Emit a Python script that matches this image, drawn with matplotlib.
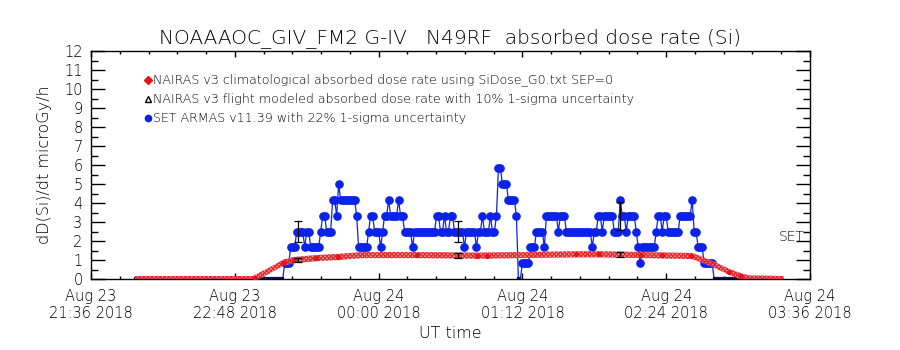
import numpy as np
import matplotlib
matplotlib.use("Agg")
import matplotlib.pyplot as plt
from matplotlib.ticker import MultipleLocator

plt.rcParams["hatch.linewidth"] = 1.0

# time axis in minutes after 2018-08-23 21:36 UT
tick_min = [0, 72, 144, 216, 288, 360]
tick_labels = ["Aug 23\n21:36 2018", "Aug 23\n22:48 2018", "Aug 24\n00:00 2018",
               "Aug 24\n01:12 2018", "Aug 24\n02:24 2018", "Aug 24\n03:36 2018"]

# NAIRAS v3 climatological dose rate (microGy/h)
clim_t = [22, 81, 88.5, 96, 101.5, 113, 123.5, 136, 163, 194, 243, 255, 276, 301,
          305, 310, 315, 320, 326, 330, 347]
clim_v = [0.0, 0.0, 0.4, 0.84, 1.0, 1.1, 1.16, 1.26, 1.26, 1.23, 1.3, 1.3, 1.26,
          1.21, 1.05, 0.85, 0.6, 0.35, 0.12, 0.03, 0.0]
clim_dot_t = [82, 96, 101.5, 112.5, 123.5, 163, 193.5, 198.5, 243, 254.5, 275.5,
              286, 300.5, 319.5, 325.5]
clim_dot_v = [0.05, 0.84, 1.0, 1.1, 1.16, 1.26, 1.23, 1.22, 1.3, 1.3, 1.26, 1.24,
              1.2, 0.38, 0.14]

# NAIRAS flight modeled values at the error bar times (10% 1-sigma)
model_t = [103.5, 184, 265]
model_v = [1.0, 1.24, 1.27]

# SET ARMAS: quantised levels, run starts (minute) and level index
set_step = 0.832
set_run_t = [22, 97, 100, 103, 107, 108, 110, 115, 116, 118, 121, 123, 124, 125,
             133, 134, 139, 140, 142, 145, 146, 147, 149, 150, 154, 155, 157, 161,
             162, 173, 175, 177, 178, 180, 182, 187, 188, 193, 194, 196, 197, 200,
             201, 203, 204, 206, 209, 213, 214, 216, 220, 223, 227, 228, 234, 235,
             238, 251, 252, 254, 256, 257, 262, 265, 266, 268, 269, 273, 274, 275,
             276, 283, 284, 286, 287, 289, 295, 301, 302, 304, 307, 312]
set_run_k = [0, 1, 2, 3, 2, 3, 2, 3, 4, 3, 5, 4, 6, 5,
             4, 2, 3, 4, 3, 2, 3, 4, 5, 4, 5, 4, 3, 2,
             3, 4, 3, 4, 3, 4, 3, 2, 3, 2, 3, 4, 3, 4,
             3, 4, 7, 6, 5, 4, 0, 1, 2, 3, 2, 4, 3, 4,
             3, 2, 3, 4, 3, 4, 3, 5, 4, 3, 4, 3, 2, 1,
             2, 3, 4, 3, 4, 3, 4, 5, 3, 2, 1, 0]
set_end = 347
set_err_t = [103.5, 184, 265]
set_err_v = [2.49, 2.49, 3.33]

red = "#e8121e"
blue = "#0b22e8"
navy = "#101060"

set_t = np.arange(set_run_t[0], set_end)
idx = np.searchsorted(set_run_t, set_t, side="right") - 1
set_v = np.array(set_run_k)[idx] * set_step

fig = plt.figure(figsize=(9, 3.5), dpi=100)
ax = fig.add_axes([91 / 900, 1 - 279 / 350, 719 / 900, 228 / 350])

# SET ARMAS
ax.plot(set_t, set_v, color=blue, lw=0.9, zorder=2)
ax.plot(set_t, np.where(set_v > 0, np.nan, set_v) + 0.04, color=navy, lw=1.6,
        zorder=2, clip_on=False)
on = set_v > 0
ax.plot(set_t[on], set_v[on], "o", ms=5.2, color=blue, mec=blue, zorder=2)
ax.errorbar(set_err_t, set_err_v, yerr=0.22 * np.array(set_err_v), fmt="none",
            ecolor="k", elinewidth=0.9, capsize=3, capthick=0.9, zorder=4)

# NAIRAS climatological band
ct = np.array(clim_t)
cv = np.array(clim_v)
ax.fill_between(ct, cv - 0.16, cv + 0.16, facecolor="#f39a9a", edgecolor=red,
                hatch="xxxxxxxx", lw=0, alpha=0.85, zorder=3)
ax.plot(clim_dot_t, clim_dot_v, "o", ms=2.8, color=red, zorder=3)
ax.errorbar(model_t, model_v, yerr=0.10 * np.array(model_v), fmt="none",
            ecolor="k", elinewidth=0.9, capsize=3, capthick=0.9, zorder=4)

ax.set_xlim(0, 360)
ax.set_ylim(0, 12)
ax.set_xticks(tick_min)
ax.set_xticklabels(tick_labels, fontsize=10.5, fontweight="light")
ax.xaxis.set_minor_locator(MultipleLocator(14.4))
ax.set_yticks(range(0, 13))
ax.set_yticklabels([str(i) for i in range(13)], fontsize=10.5, fontweight="light")
ax.yaxis.set_minor_locator(MultipleLocator(0.5))
ax.tick_params(axis="x", which="major", direction="in", length=4, width=1,
               top=True, pad=7)
ax.tick_params(axis="x", which="minor", direction="in", length=2, width=1,
               top=True)
ax.tick_params(axis="y", which="major", direction="in", length=10, width=1,
               right=True, pad=6)
ax.tick_params(axis="y", which="minor", direction="in", length=5, width=1,
               right=True)
for s in ax.spines.values():
    s.set_linewidth(1)

ax.text(344.5, 2.2, "SET", fontsize=10, fontweight="light", ha="left",
        va="center")

fig.text(0.5, 1 - 38 / 350, "NOAAAOC_GIV_FM2 G-IV   N49RF  absorbed dose rate (Si)",
         fontsize=14.5, fontweight="light", ha="center", va="center")
fig.text(45 / 900, 1 - 165 / 350, "dD(Si)/dt microGy/h", rotation=90,
         fontsize=11.5, fontweight="light", ha="center", va="center")
fig.text(450 / 900, 1 - 333 / 350, "UT time", fontsize=11.5, fontweight="light",
         ha="center", va="center")

# legend
leg_y = [80, 99, 118]
leg_txt = ["NAIRAS v3 climatological absorbed dose rate using SiDose_G0.txt SEP=0",
           "NAIRAS v3 flight modeled absorbed dose rate with 10% 1-sigma uncertainty",
           "SET ARMAS v11.39 with 22% 1-sigma uncertainty"]
leg_mk = [("D", red, red), ("^", "none", "k"), ("o", blue, blue)]
for y, txt, (mk, fc, ec) in zip(leg_y, leg_txt, leg_mk):
    fy = 1 - y / 350
    fig.lines.append(plt.Line2D([148 / 900], [fy], marker=mk, ms=4.5,
                                mfc=fc, mec=ec, ls="none",
                                transform=fig.transFigure))
    fig.text(153 / 900, fy, txt, fontsize=9.1, fontweight="light", ha="left",
             va="center")

fig.savefig("out.png", dpi=100)
